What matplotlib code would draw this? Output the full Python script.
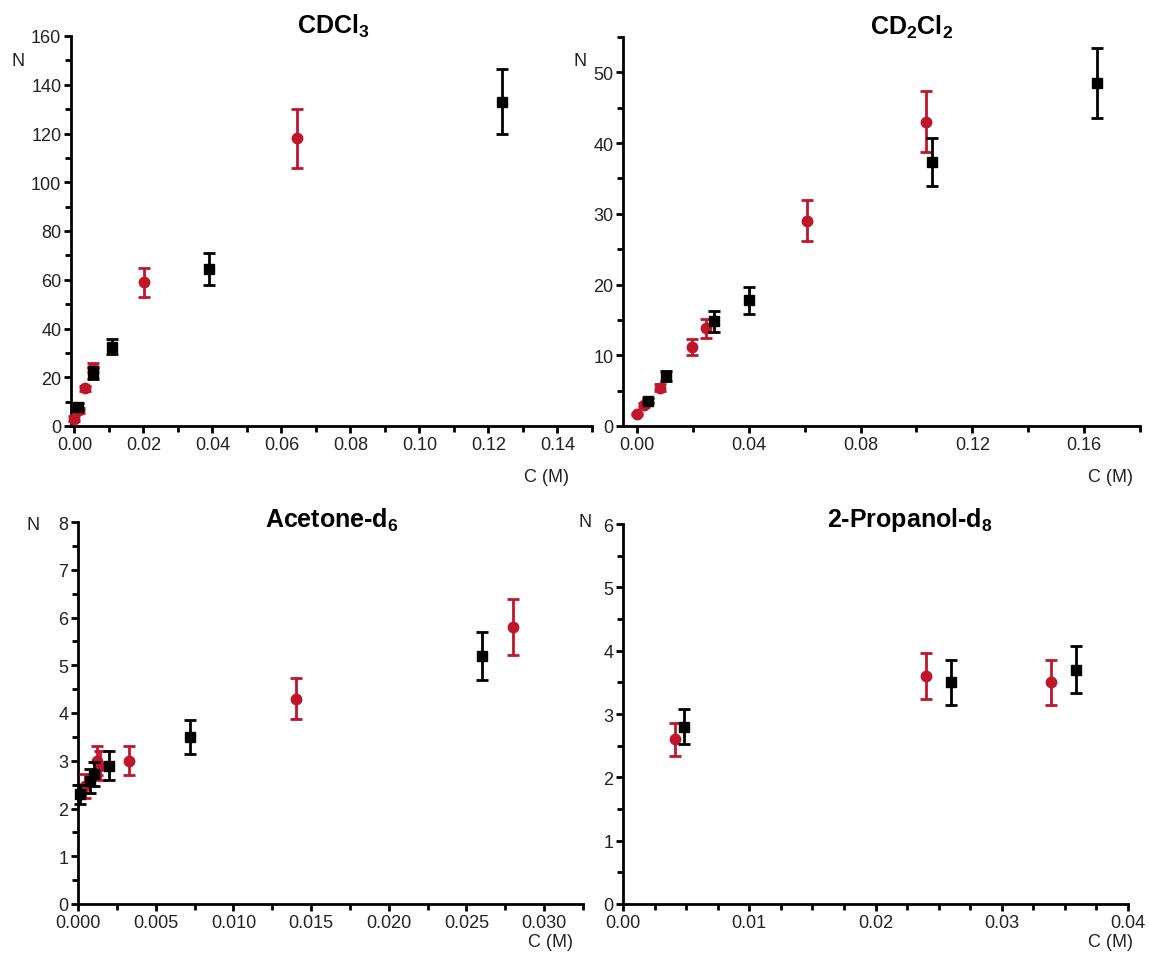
import matplotlib
matplotlib.use("Agg")
import matplotlib.pyplot as plt
from matplotlib.ticker import MultipleLocator, FormatStrFormatter

plt.rcParams['font.family'] = ['Liberation Sans', 'DejaVu Sans']
plt.rcParams['mathtext.fontset'] = 'custom'
plt.rcParams['mathtext.rm'] = 'Liberation Sans'
plt.rcParams['mathtext.bf'] = 'Liberation Sans:bold'
plt.rcParams['mathtext.it'] = 'Liberation Sans:italic'

RED = '#C0162C'
BLACK = '#000000'

# ---------------- data ----------------
# CDCl3
cdcl3_black_x = [0.001, 0.0055, 0.011, 0.039, 0.124]
cdcl3_black_y = [8, 21.7, 32.5, 64.4, 133]
cdcl3_black_e = [1.5, 2.5, 3, 6.5, 13.3]
cdcl3_red_x = [0.0, 0.0012, 0.003, 0.0055, 0.0203, 0.0646]
cdcl3_red_y = [3, 6.5, 15.5, 24, 59, 118]
cdcl3_red_e = [1, 1, 1, 2, 6, 12]

# CD2Cl2
cd2cl2_black_x = [0.004, 0.0104, 0.0275, 0.040, 0.1057, 0.1646]
cd2cl2_black_y = [3.6, 7.1, 14.8, 17.8, 37.3, 48.5]
cd2cl2_black_e = [0.4, 0.7, 1.5, 1.9, 3.4, 5.0]
cd2cl2_red_x = [0.0, 0.0025, 0.0082, 0.0196, 0.0247, 0.061, 0.1036]
cd2cl2_red_y = [1.7, 3.0, 5.4, 11.2, 13.8, 29, 43]
cd2cl2_red_e = [0.2, 0.3, 0.5, 1.1, 1.3, 2.9, 4.3]

# Acetone-d6
acetone_black_x = [0.0001, 0.0008, 0.001, 0.002, 0.0072, 0.026]
acetone_black_y = [2.3, 2.57, 2.72, 2.9, 3.5, 5.2]
acetone_black_e = [0.2, 0.25, 0.25, 0.3, 0.35, 0.5]
acetone_red_x = [0.00045, 0.0012, 0.0014, 0.0033, 0.014, 0.028]
acetone_red_y = [2.47, 3.0, 2.9, 3.0, 4.3, 5.8]
acetone_red_e = [0.25, 0.3, 0.3, 0.3, 0.43, 0.58]

# 2-Propanol-d8
propanol_black_x = [0.0048, 0.026, 0.0359]
propanol_black_y = [2.8, 3.5, 3.7]
propanol_black_e = [0.28, 0.35, 0.37]
propanol_red_x = [0.0041, 0.024, 0.0339]
propanol_red_y = [2.6, 3.6, 3.5]
propanol_red_e = [0.26, 0.37, 0.35]

titles = [r'CDCl$_\mathbf{3}$', r'CD$_\mathbf{2}$Cl$_\mathbf{2}$',
          r'Acetone-d$_\mathbf{6}$', r'2-Propanol-d$_\mathbf{8}$']

W, H = 1149, 954
fig = plt.figure(figsize=(W / 100, H / 100), dpi=100)


def px_axes(l, r, b, t):
    return fig.add_axes([l / W, 1 - b / H, (r - l) / W, (b - t) / H])


def style(ax, xlim, ylim, xmaj, xmin, ymaj, ymin, xfmt):
    ax.set_xlim(*xlim)
    ax.set_ylim(*ylim)
    for s in ['top', 'right']:
        ax.spines[s].set_visible(False)
    for s in ['left', 'bottom']:
        ax.spines[s].set_linewidth(2.0)
    ax.xaxis.set_major_locator(MultipleLocator(xmaj))
    ax.xaxis.set_minor_locator(MultipleLocator(xmin))
    ax.yaxis.set_major_locator(MultipleLocator(ymaj))
    ax.yaxis.set_minor_locator(MultipleLocator(ymin))
    ax.xaxis.set_major_formatter(FormatStrFormatter(xfmt))
    ax.tick_params(which='major', direction='out', length=5, width=2.0,
                   labelsize=13, colors='black', labelcolor='#222222', pad=2)
    ax.tick_params(which='minor', direction='out', length=4, width=2.0, colors='black')


def draw(ax, rx, ry, re, bx, by, be):
    ax.errorbar(rx, ry, yerr=re, fmt='o', color=RED, ecolor=RED, ms=7.5,
                elinewidth=2.0, capsize=4.5, capthick=2.0, zorder=3, clip_on=False)
    ax.errorbar(bx, by, yerr=be, fmt='s', color=BLACK, ecolor=BLACK, ms=7,
                elinewidth=2.0, capsize=4.5, capthick=2.0, zorder=4, clip_on=False)


ax1 = px_axes(71, 592, 427, 37)
style(ax1, (-0.001, 0.15), (0, 160), 0.02, 0.01, 20, 10, '%.2f')
draw(ax1, cdcl3_red_x, cdcl3_red_y, cdcl3_red_e, cdcl3_black_x, cdcl3_black_y, cdcl3_black_e)

ax2 = px_axes(623, 1140, 427, 38)
style(ax2, (-0.005, 0.18), (0, 55), 0.04, 0.02, 10, 5, '%.2f')
draw(ax2, cd2cl2_red_x, cd2cl2_red_y, cd2cl2_red_e, cd2cl2_black_x, cd2cl2_black_y, cd2cl2_black_e)

ax3 = px_axes(78, 583, 905, 523)
style(ax3, (0, 0.0325), (0, 8), 0.005, 0.0025, 1, 0.5, '%.3f')
draw(ax3, acetone_red_x, acetone_red_y, acetone_red_e, acetone_black_x, acetone_black_y, acetone_black_e)

ax4 = px_axes(623, 1128, 905, 525)
style(ax4, (0, 0.04), (0, 6), 0.01, 0.0025, 1, 0.5, '%.2f')
draw(ax4, propanol_red_x, propanol_red_y, propanol_red_e, propanol_black_x, propanol_black_y, propanol_black_e)


def ftext(x, y, s, **kw):
    fig.text(x / W, 1 - y / H, s, ha='center', va='center', **kw)


ftext(333, 26, titles[0], fontsize=18, fontweight='bold')
ftext(912, 27, titles[1], fontsize=18, fontweight='bold')
ftext(332, 520, titles[2], fontsize=18, fontweight='bold')
ftext(910, 520, titles[3], fontsize=18, fontweight='bold')

for (x, y) in [(18, 61), (580, 62), (33, 526), (585, 523)]:
    ftext(x, y, 'N', fontsize=13, color='#222222')
for (x, y) in [(547, 478), (1110, 478), (550, 943), (1110, 943)]:
    ftext(x, y, 'C (M)', fontsize=13, color='#222222')

fig.savefig('out.png', dpi=100)
